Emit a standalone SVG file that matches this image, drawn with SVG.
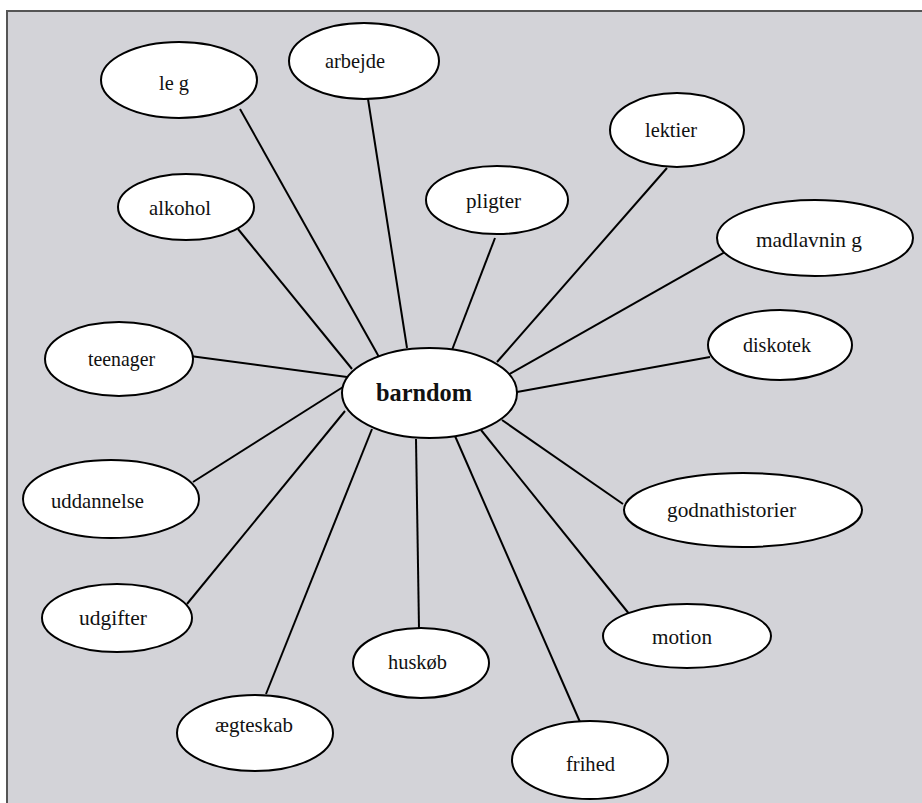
<svg xmlns="http://www.w3.org/2000/svg" width="922" height="803" viewBox="0 0 922 803">
<style>
.bg{fill:#d3d3d8}
.frame{stroke:#555;stroke-width:2;fill:none}
ellipse{fill:#fff;stroke:#000;stroke-width:2}
.lines line{stroke:#000;stroke-width:2}
text{font-family:"Liberation Serif","DejaVu Serif",serif;font-size:22px;fill:#111}
.main{font-size:25px;font-weight:bold}
</style>
<rect class="bg" x="7" y="11" width="915" height="792"/>
<path class="frame" d="M7,803 V11 H922"/>
<g id="connectors" class="lines">
<line x1="240" y1="109" x2="379" y2="357"/>
<line x1="368" y1="99" x2="407" y2="348"/>
<line x1="238" y1="229" x2="352" y2="369"/>
<line x1="495" y1="238" x2="452" y2="350"/>
<line x1="667" y1="168" x2="497" y2="362"/>
<line x1="725" y1="252" x2="508" y2="375"/>
<line x1="190" y1="356" x2="347" y2="377"/>
<line x1="710" y1="357" x2="517" y2="392"/>
<line x1="193" y1="482" x2="343" y2="387"/>
<line x1="623" y1="504" x2="502" y2="420"/>
<line x1="187" y1="604" x2="345" y2="411"/>
<line x1="630" y1="615" x2="481" y2="430"/>
<line x1="419" y1="628" x2="416" y2="439"/>
<line x1="266" y1="694" x2="372" y2="429"/>
<line x1="580" y1="722" x2="455" y2="436"/>
</g>
<g id="leg"><ellipse cx="179" cy="80" rx="78" ry="38"/><text x="159" y="90" font-family="Liberation Serif, serif" textLength="30" lengthAdjust="spacingAndGlyphs">le g</text></g>
<g id="arbejde"><ellipse cx="364" cy="61" rx="75" ry="38"/><text x="325" y="68" font-family="Liberation Serif, serif" textLength="60" lengthAdjust="spacingAndGlyphs">arbejde</text></g>
<g id="alkohol"><ellipse cx="186" cy="207" rx="68" ry="33"/><text x="149" y="215" font-family="Liberation Serif, serif" textLength="62" lengthAdjust="spacingAndGlyphs">alkohol</text></g>
<g id="pligter"><ellipse cx="497" cy="200" rx="71" ry="34"/><text x="466" y="208" font-family="Liberation Serif, serif" textLength="55" lengthAdjust="spacingAndGlyphs">pligter</text></g>
<g id="lektier"><ellipse cx="677" cy="130" rx="67" ry="37"/><text x="645" y="137" font-family="Liberation Serif, serif" textLength="52" lengthAdjust="spacingAndGlyphs">lektier</text></g>
<g id="madlavning"><ellipse cx="815" cy="238" rx="98" ry="38"/><text x="756" y="247" font-family="Liberation Serif, serif" textLength="106" lengthAdjust="spacingAndGlyphs">madlavnin g</text></g>
<g id="teenager"><ellipse cx="119" cy="359" rx="74" ry="37"/><text x="88" y="366" font-family="Liberation Serif, serif" textLength="67" lengthAdjust="spacingAndGlyphs">teenager</text></g>
<g id="barndom"><ellipse cx="429.5" cy="393" rx="87.5" ry="45"/><text class="main" x="376" y="401" font-family="Liberation Serif, serif" textLength="96" lengthAdjust="spacingAndGlyphs">barndom</text></g>
<g id="diskotek"><ellipse cx="780" cy="345" rx="72" ry="35"/><text x="743" y="352" font-family="Liberation Serif, serif" textLength="68" lengthAdjust="spacingAndGlyphs">diskotek</text></g>
<g id="uddannelse"><ellipse cx="111" cy="499" rx="88" ry="39"/><text x="51" y="508" font-family="Liberation Serif, serif" textLength="93" lengthAdjust="spacingAndGlyphs">uddannelse</text></g>
<g id="godnathistorier"><ellipse cx="743" cy="510" rx="119" ry="37"/><text x="667" y="517" font-family="Liberation Serif, serif" textLength="129" lengthAdjust="spacingAndGlyphs">godnathistorier</text></g>
<g id="udgifter"><ellipse cx="117" cy="618" rx="75" ry="34"/><text x="79" y="625" font-family="Liberation Serif, serif" textLength="68" lengthAdjust="spacingAndGlyphs">udgifter</text></g>
<g id="huskob"><ellipse cx="421" cy="663" rx="68" ry="35"/><text x="388" y="669" font-family="Liberation Serif, serif" textLength="59" lengthAdjust="spacingAndGlyphs">huskøb</text></g>
<g id="motion"><ellipse cx="687" cy="636" rx="84" ry="32"/><text x="652" y="644" font-family="Liberation Serif, serif" textLength="60" lengthAdjust="spacingAndGlyphs">motion</text></g>
<g id="aegteskab"><ellipse cx="255" cy="733" rx="78" ry="38"/><text x="215" y="732" font-family="Liberation Serif, serif" textLength="78" lengthAdjust="spacingAndGlyphs">ægteskab</text></g>
<g id="frihed"><ellipse cx="590" cy="760" rx="78" ry="39"/><text x="566" y="771" font-family="Liberation Serif, serif" textLength="49" lengthAdjust="spacingAndGlyphs">frihed</text></g>
</svg>
